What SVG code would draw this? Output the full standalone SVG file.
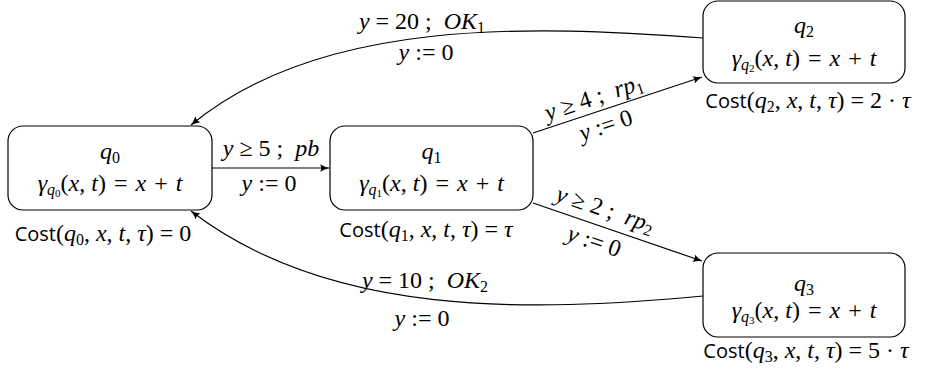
<svg xmlns="http://www.w3.org/2000/svg" width="931" height="375" viewBox="0 0 931 375">
<defs>
<marker id="ah" markerUnits="userSpaceOnUse" markerWidth="12" markerHeight="10" viewBox="-10 -5 12 10" refX="0" refY="0" orient="auto">
<path d="M-9,-3.8 Q-4,-1 0,0 Q-4,1 -9,3.8 Q-6.5,0 -9,-3.8 z" fill="#000"/>
</marker>
</defs>
<g id="edges" fill="none" stroke="#000" stroke-width="1.2">
<path marker-end="url(#ah)" d="M212,168 L329,168"/>
<path marker-end="url(#ah)" d="M533,133 L702,77"/>
<path marker-end="url(#ah)" d="M533,203 L702,261"/>
<path marker-end="url(#ah)" d="M703,38 C530,25 320,18 191,125"/>
<path marker-end="url(#ah)" d="M703,296 C530,312 330,318 191,211"/>
</g>
<g id="edge-labels">
<text font-family="Liberation Serif" font-size="24" x="271" y="156" text-anchor="middle"><tspan font-style="italic">y</tspan> ≥ 5 ; <tspan font-style="italic" dx="6">pb</tspan></text>
<text font-family="Liberation Serif" font-size="24" x="269" y="191" text-anchor="middle"><tspan font-style="italic">y</tspan> := 0</text>
<text font-family="Liberation Serif" font-size="24" x="0" y="7" text-anchor="middle" transform="translate(594,98) rotate(-18.3)"><tspan font-style="italic">y</tspan> ≥ 4 ; <tspan font-style="italic" dx="6">rp</tspan><tspan font-size="16" dy="4">1</tspan></text>
<text font-family="Liberation Serif" font-size="24" x="0" y="7" text-anchor="middle" transform="translate(606,126) rotate(-18.3)"><tspan font-style="italic">y</tspan> := 0</text>
<text font-family="Liberation Serif" font-size="24" x="0" y="7" text-anchor="middle" transform="translate(605,210) rotate(18.6)"><tspan font-style="italic">y</tspan> ≥ 2 ; <tspan font-style="italic" dx="6">rp</tspan><tspan font-size="16" dy="4">2</tspan></text>
<text font-family="Liberation Serif" font-size="24" x="0" y="7" text-anchor="middle" transform="translate(594,242) rotate(18.6)"><tspan font-style="italic">y</tspan> := 0</text>
<text font-family="Liberation Serif" font-size="24" x="422" y="29" text-anchor="middle"><tspan font-style="italic">y</tspan> = 20 ; <tspan font-style="italic" dx="6">OK</tspan><tspan font-size="16" dy="4">1</tspan></text>
<text font-family="Liberation Serif" font-size="24" x="426" y="60" text-anchor="middle"><tspan font-style="italic">y</tspan> := 0</text>
<text font-family="Liberation Serif" font-size="24" x="425" y="288" text-anchor="middle"><tspan font-style="italic">y</tspan> = 10 ; <tspan font-style="italic" dx="6">OK</tspan><tspan font-size="16" dy="4">2</tspan></text>
<text font-family="Liberation Serif" font-size="24" x="422" y="326" text-anchor="middle"><tspan font-style="italic">y</tspan> := 0</text>
</g>
<g id="q0">
<rect x="8" y="126" width="204" height="84" rx="15" fill="#fff" stroke="#000" stroke-width="1.2"/>
<text font-family="Liberation Serif" font-size="24" x="110" y="159" text-anchor="middle"><tspan font-style="italic">q</tspan><tspan font-size="16" dy="4">0</tspan></text>
<text font-family="Liberation Serif" font-size="24" x="110" y="191" text-anchor="middle"><tspan font-style="italic">γ</tspan><tspan font-style="italic" font-size="16" dy="4">q</tspan><tspan font-size="11" dy="2">0</tspan><tspan dy="-6">(</tspan><tspan font-style="italic">x</tspan>, <tspan font-style="italic">t</tspan>) <tspan dx="2">=</tspan> <tspan font-style="italic" dx="2">x</tspan> <tspan dx="2">+</tspan> <tspan font-style="italic" dx="2">t</tspan></text>
<text font-family="Liberation Serif" font-size="24" x="103" y="241" text-anchor="middle"><tspan font-family="Open Sans" font-size="20">Cost</tspan>(<tspan font-style="italic">q</tspan><tspan font-size="16" dy="4">0</tspan><tspan dy="-4">, </tspan><tspan font-style="italic">x</tspan>, <tspan font-style="italic">t</tspan>, <tspan font-style="italic">τ</tspan>) = 0</text>
</g>
<g id="q1">
<rect x="330" y="126" width="203" height="84" rx="15" fill="#fff" stroke="#000" stroke-width="1.2"/>
<text font-family="Liberation Serif" font-size="24" x="431.5" y="159" text-anchor="middle"><tspan font-style="italic">q</tspan><tspan font-size="16" dy="4">1</tspan></text>
<text font-family="Liberation Serif" font-size="24" x="431.5" y="191" text-anchor="middle"><tspan font-style="italic">γ</tspan><tspan font-style="italic" font-size="16" dy="4">q</tspan><tspan font-size="11" dy="2">1</tspan><tspan dy="-6">(</tspan><tspan font-style="italic">x</tspan>, <tspan font-style="italic">t</tspan>) <tspan dx="2">=</tspan> <tspan font-style="italic" dx="2">x</tspan> <tspan dx="2">+</tspan> <tspan font-style="italic" dx="2">t</tspan></text>
<text font-family="Liberation Serif" font-size="24" x="426" y="237" text-anchor="middle"><tspan font-family="Open Sans" font-size="20">Cost</tspan>(<tspan font-style="italic">q</tspan><tspan font-size="16" dy="4">1</tspan><tspan dy="-4">, </tspan><tspan font-style="italic">x</tspan>, <tspan font-style="italic">t</tspan>, <tspan font-style="italic">τ</tspan>) = <tspan font-style="italic">τ</tspan></text>
</g>
<g id="q2">
<rect x="703" y="1" width="202" height="82" rx="15" fill="#fff" stroke="#000" stroke-width="1.2"/>
<text font-family="Liberation Serif" font-size="24" x="804" y="33" text-anchor="middle"><tspan font-style="italic">q</tspan><tspan font-size="16" dy="4">2</tspan></text>
<text font-family="Liberation Serif" font-size="24" x="804" y="66" text-anchor="middle"><tspan font-style="italic">γ</tspan><tspan font-style="italic" font-size="16" dy="4">q</tspan><tspan font-size="11" dy="2">2</tspan><tspan dy="-6">(</tspan><tspan font-style="italic">x</tspan>, <tspan font-style="italic">t</tspan>) <tspan dx="2">=</tspan> <tspan font-style="italic" dx="2">x</tspan> <tspan dx="2">+</tspan> <tspan font-style="italic" dx="2">t</tspan></text>
<text font-family="Liberation Serif" font-size="24" x="808" y="108" text-anchor="middle"><tspan font-family="Open Sans" font-size="20">Cost</tspan>(<tspan font-style="italic">q</tspan><tspan font-size="16" dy="4">2</tspan><tspan dy="-4">, </tspan><tspan font-style="italic">x</tspan>, <tspan font-style="italic">t</tspan>, <tspan font-style="italic">τ</tspan>) = 2 · <tspan font-style="italic">τ</tspan></text>
</g>
<g id="q3">
<rect x="703" y="253" width="202" height="84" rx="15" fill="#fff" stroke="#000" stroke-width="1.2"/>
<text font-family="Liberation Serif" font-size="24" x="804" y="291" text-anchor="middle"><tspan font-style="italic">q</tspan><tspan font-size="16" dy="4">3</tspan></text>
<text font-family="Liberation Serif" font-size="24" x="804" y="318" text-anchor="middle"><tspan font-style="italic">γ</tspan><tspan font-style="italic" font-size="16" dy="4">q</tspan><tspan font-size="11" dy="2">3</tspan><tspan dy="-6">(</tspan><tspan font-style="italic">x</tspan>, <tspan font-style="italic">t</tspan>) <tspan dx="2">=</tspan> <tspan font-style="italic" dx="2">x</tspan> <tspan dx="2">+</tspan> <tspan font-style="italic" dx="2">t</tspan></text>
<text font-family="Liberation Serif" font-size="24" x="806" y="358" text-anchor="middle"><tspan font-family="Open Sans" font-size="20">Cost</tspan>(<tspan font-style="italic">q</tspan><tspan font-size="16" dy="4">3</tspan><tspan dy="-4">, </tspan><tspan font-style="italic">x</tspan>, <tspan font-style="italic">t</tspan>, <tspan font-style="italic">τ</tspan>) = 5 · <tspan font-style="italic">τ</tspan></text>
</g>
</svg>
